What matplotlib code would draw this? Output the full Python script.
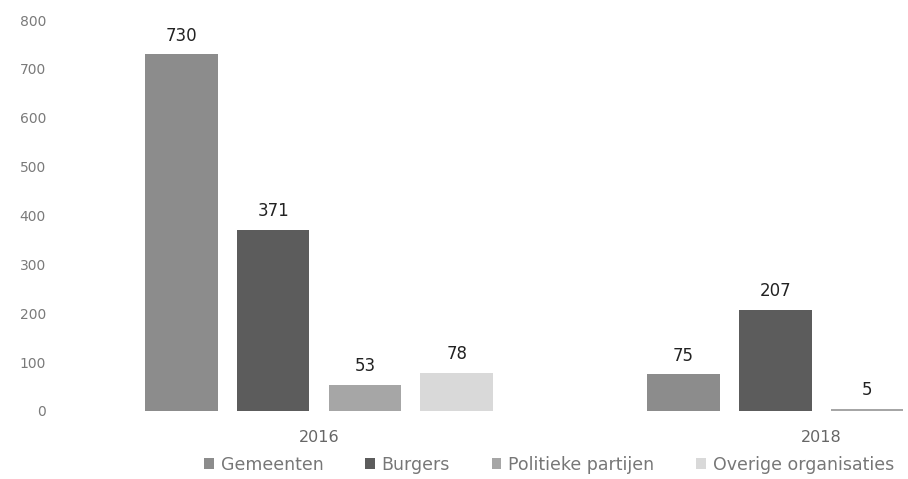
import numpy as np
import matplotlib
matplotlib.use("Agg")
import matplotlib.pyplot as plt

plt.rcParams['font.family'] = ['DejaVu Sans']

years = ["2016", "2018"]
series_names = ["Gemeenten", "Burgers", "Politieke partijen", "Overige organisaties"]
gemeenten = [730, 75]
burgers = [371, 207]
politieke_partijen = [53, 5]
overige_organisaties = [78, np.nan]
y_ticks = [0, 100, 200, 300, 400, 500, 600, 700, 800]

series_values = [gemeenten, burgers, politieke_partijen, overige_organisaties]
colors = ["#8c8c8c", "#5c5c5c", "#a6a6a6", "#d9d9d9"]

fig = plt.figure(figsize=(9.08, 4.79), dpi=100)
ax = fig.add_axes([0.066, 0.142, 0.934, 0.816])

x = np.arange(len(years))
step = 0.183
width = 0.145
offsets = (np.arange(len(series_names)) - 1.5) * step

for vals, off, col, name in zip(series_values, offsets, colors, series_names):
    bars = ax.bar(x + off, vals, width=width, color=col, label=name)
    for b, v in zip(bars, vals):
        if np.isnan(v):
            continue
        ax.annotate(f"{v:g}", (b.get_x() + b.get_width() / 2, v),
                    xytext=(0, 7), textcoords="offset points",
                    ha="center", va="bottom", fontsize=12, color="#222222")

ax.set_xlim(-0.516, 1.173)
ax.set_ylim(0, 800)
ax.set_yticks(y_ticks)
ax.set_yticklabels([str(t) for t in y_ticks])
ax.set_xticks(x)
ax.set_xticklabels(years)
ax.tick_params(axis="y", length=0, pad=10, labelsize=10, labelcolor="#7a7a7a")
ax.tick_params(axis="x", length=0, pad=14, labelsize=11.5, labelcolor="#666666")
for s in ax.spines.values():
    s.set_visible(False)

fig.legend(loc="center left", bbox_to_anchor=(0.225, 0.03), ncol=4, frameon=False,
           fontsize=12.5, labelcolor="#777777", handlelength=0.55, handleheight=0.55,
           columnspacing=2.4, handletextpad=0.4, borderaxespad=0, borderpad=0)

fig.savefig("out.png", dpi=100)
